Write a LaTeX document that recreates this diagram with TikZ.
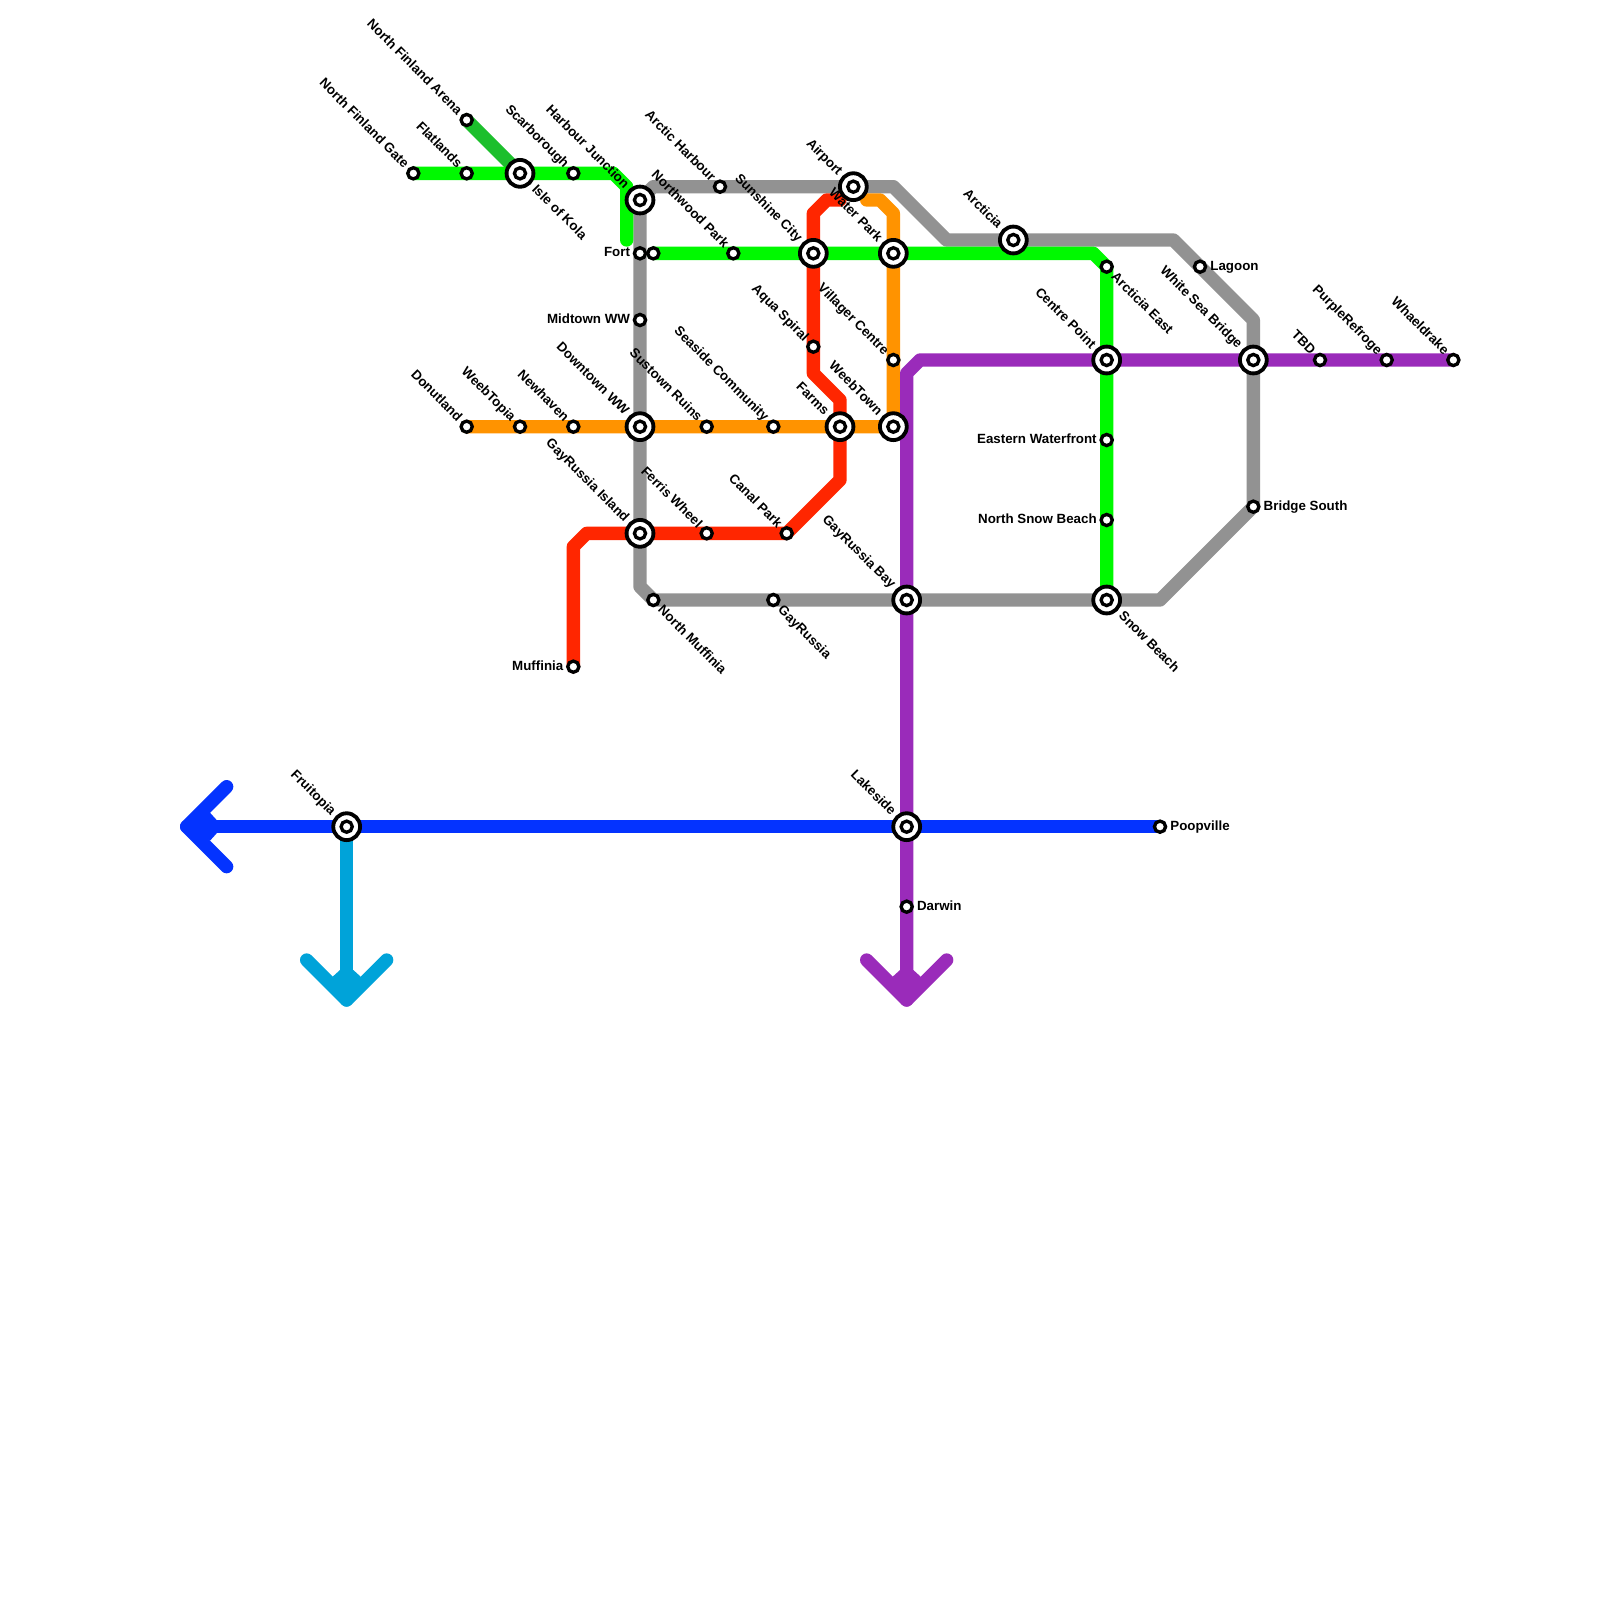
\documentclass[tikz,border=0pt]{standalone}
\usepackage{fontspec}
\setmainfont{Liberation Sans}
\usetikzlibrary{calc}
\pgfdeclarelayer{bg}
\pgfsetlayers{bg,main}
\definecolor{cGrey}{HTML}{929292}
\definecolor{cGreen}{HTML}{00F900}
\definecolor{cDkGreen}{HTML}{1CBF2C}
\definecolor{cOrange}{HTML}{FF9300}
\definecolor{cRed}{HTML}{FF2600}
\definecolor{cPurple}{HTML}{9A2BBA}
\definecolor{cBlue}{HTML}{0433FF}
\definecolor{cCyan}{HTML}{00A3D9}
\tikzset{
  metro/.style={line width=0.4cm,line cap=round,line join=round},
  smallstn/.style={circle,draw=black,fill=white,line width=0.10cm,inner sep=0pt,outer sep=0pt,minimum size=0.335cm},
  bigstn/.style={circle,draw=black,fill=white,line width=0.115cm,inner sep=0pt,outer sep=0pt,minimum size=0.805cm},
  lab/.style={inner sep=0pt,outer sep=0pt,text=black,font=\fontsize{11.38pt}{12pt}\selectfont\bfseries},
}
\newcommand{\stnS}[3]{\node[smallstn] (#1) at (#2,#3) {};}
\newcommand{\stnB}[3]{\node[bigstn] (#1) at (#2,#3) {};\node[smallstn] (#1-i) at (#1.center) {};}
\newcommand{\lblUL}[2]{\node[lab,rotate=-45,anchor=base east] (#1-l) at ($(#1.center)+(-0.73,-0.35)$) {#2};}
\newcommand{\lblULB}[2]{\node[lab,rotate=-45,anchor=base east] (#1-l) at ($(#1.center)+(-1.21,-0.81)$) {#2};}
\newcommand{\lblLR}[2]{\node[lab,rotate=-45,anchor=base west] (#1-l) at ($(#1.center)+(0.3,0.82)$) {#2};}
\newcommand{\lblLRB}[2]{\node[lab,rotate=-45,anchor=base west] (#1-l) at ($(#1.center)+(0.85,1.26)$) {#2};}
\newcommand{\lblL}[2]{\node[lab,anchor=base east] (#1-l) at ($(#1.center)+(-0.75,0.25)$) {#2};}
\newcommand{\lblR}[2]{\node[lab,anchor=base west] (#1-l) at ($(#1.center)+(0.78,0.25)$) {#2};}
\begin{document}
\begin{tikzpicture}[x=0.4cm,y=-0.4cm]
\useasboundingbox (0,0) rectangle (120,120);
% stations
\stnS{nfg}{31}{13}
\stnS{flat}{35}{13}
\stnS{nfa}{35}{9}
\stnB{kola}{39}{13}
\stnS{scar}{43}{13}
\stnB{hj}{48}{15}
\stnS{ah}{54}{14}
\stnB{air}{64}{14}
\stnB{arc}{76}{18}
\stnS{lag}{90}{20}
\stnS{fort}{48}{19}
\stnS{fort2}{49}{19}
\stnS{np}{55}{19}
\stnB{sc}{61}{19}
\stnB{wp}{67}{19}
\stnS{ae}{83}{20}
\stnS{mid}{48}{24}
\stnS{aqua}{61}{26}
\stnS{vil}{67}{27}
\stnB{cp}{83}{27}
\stnB{wsb}{94}{27}
\stnS{tbd}{99}{27}
\stnS{pr}{104}{27}
\stnS{wh}{109}{27}
\stnS{don}{35}{32}
\stnS{wt}{39}{32}
\stnS{new}{43}{32}
\stnB{dww}{48}{32}
\stnS{sus}{53}{32}
\stnS{sea}{58}{32}
\stnB{farms}{63}{32}
\stnB{wb}{67}{32}
\stnS{ew}{83}{33}
\stnS{nsb}{83}{39}
\stnS{bs}{94}{38}
\stnB{gri}{48}{40}
\stnS{fw}{53}{40}
\stnS{can}{59}{40}
\stnS{nm}{49}{45}
\stnS{gr}{58}{45}
\stnB{grb}{68}{45}
\stnB{sb}{83}{45}
\stnS{muf}{43}{50}
\stnB{fru}{26}{62}
\stnB{lake}{68}{62}
\stnS{poop}{87}{62}
\stnS{dar}{68}{68}
% free bends
\coordinate (g1) at (49,14);
\coordinate (g2) at (67,14);
\coordinate (g3) at (71,18);
\coordinate (g4) at (88,18);
\coordinate (g5) at (94,24);
\coordinate (g6) at (87,45);
\coordinate (g7) at (48,44);
\coordinate (a1) at (46,13);
\coordinate (a2) at (47,14);
\coordinate (a3) at (47,18);
\coordinate (b1) at (82,19);
\coordinate (o1) at (65,15);
\coordinate (o2) at (66,15);
\coordinate (o3) at (67,16);
\coordinate (r1) at (43,41);
\coordinate (r2) at (44,40);
\coordinate (r3) at (63,36);
\coordinate (r4) at (63,30);
\coordinate (r5) at (61,28);
\coordinate (r6) at (61,16);
\coordinate (r7) at (62,15);
\coordinate (r8) at (63,15);
\coordinate (p1) at (68,28);
\coordinate (p2) at (69,27);
\coordinate (ptip) at (68,75);
\coordinate (parmL) at (65,72);
\coordinate (parmR) at (71,72);
\coordinate (btip) at (14,62);
\coordinate (barmU) at (17,59);
\coordinate (barmD) at (17,65);
\coordinate (ctip) at (26,75);
\coordinate (carmL) at (23,72);
\coordinate (carmR) at (29,72);
% lines
\begin{pgfonlayer}{bg}
\fill[white] (0,0) rectangle (120,120);
\draw[metro,cGrey] (hj.center) -- (g1) -- (ah.center) -- (air.center) -- (g2) -- (g3) -- (arc.center) -- (g4) -- (lag.center) -- (g5) -- (wsb.center) -- (bs.center) -- (g6) -- (sb.center) -- (grb.center) -- (gr.center) -- (nm.center) -- (g7) -- (gri.center) -- (dww.center) -- (mid.center) -- (fort.center) -- (hj.center);
\draw[metro,cDkGreen] (nfa.center) -- (kola.center);
\draw[metro,cGreen] (nfg.center) -- (flat.center) -- (kola.center) -- (scar.center) -- (a1) -- (a2) -- (a3);
\draw[metro,cGreen] (fort2.center) -- (np.center) -- (sc.center) -- (wp.center) -- (b1) -- (ae.center) -- (cp.center) -- (ew.center) -- (nsb.center) -- (sb.center);
\draw[metro,cOrange] (o1) -- (o2) -- (o3) -- (wp.center) -- (vil.center) -- (wb.center) -- (farms.center) -- (sea.center) -- (sus.center) -- (dww.center) -- (new.center) -- (wt.center) -- (don.center);
\draw[metro,cRed] (r8) -- (r7) -- (r6) -- (sc.center) -- (aqua.center) -- (r5) -- (r4) -- (farms.center) -- (r3) -- (can.center) -- (fw.center) -- (gri.center) -- (r2) -- (r1) -- (muf.center);
\draw[metro,cPurple] (wh.center) -- (pr.center) -- (tbd.center) -- (wsb.center) -- (cp.center) -- (p2) -- (p1) -- (grb.center) -- (lake.center) -- (dar.center) -- (ptip);
\draw[metro,cPurple] (parmL) -- (ptip) -- (parmR);
\fill[cPurple] (ptip) -- (66.95,73.25) -- (67.5,72.75) -- (68.5,72.75) -- (69.05,73.25) -- cycle;
\draw[metro,cCyan] (fru.center) -- (ctip);
\draw[metro,cCyan] (carmL) -- (ctip) -- (carmR);
\fill[cCyan] (ctip) -- (24.95,73.25) -- (25.5,72.75) -- (26.5,72.75) -- (27.05,73.25) -- cycle;
\draw[metro,cBlue] (poop.center) -- (lake.center) -- (fru.center) -- (btip);
\draw[metro,cBlue] (barmU) -- (btip) -- (barmD);
\fill[cBlue] (btip) -- (15.75,60.95) -- (16.25,61.5) -- (16.25,62.5) -- (15.75,63.05) -- cycle;
\end{pgfonlayer}
% labels
\lblUL{nfg}{North Finland Gate}
\lblUL{flat}{Flatlands}
\lblUL{nfa}{North Finland Arena}
\lblUL{scar}{Scarborough}
\lblUL{ah}{Arctic Harbour}
\lblUL{np}{Northwood Park}
\lblUL{don}{Donutland}
\lblUL{wt}{WeebTopia}
\lblUL{new}{Newhaven}
\lblUL{sus}{Sustown Ruins}
\lblUL{sea}{Seaside Community}
\lblUL{aqua}{Aqua Spiral}
\lblUL{vil}{Villager Centre}
\lblUL{fw}{Ferris Wheel}
\lblUL{can}{Canal Park}
\lblUL{tbd}{TBD}
\lblUL{pr}{PurpleRefroge}
\lblUL{wh}{Whaeldrake}
\lblULB{hj}{Harbour Junction}
\lblULB{sc}{Sunshine City}
\lblULB{air}{Airport}
\lblULB{wp}{Water Park}
\lblULB{arc}{Arcticia}
\lblULB{dww}{Downtown WW}
\lblULB{farms}{Farms}
\lblULB{wb}{WeebTown}
\lblULB{gri}{GayRussia Island}
\lblULB{grb}{GayRussia Bay}
\lblULB{cp}{Centre Point}
\lblULB{wsb}{White Sea Bridge}
\lblULB{lake}{Lakeside}
\lblULB{fru}{Fruitopia}
\lblLR{ae}{Arcticia East}
\lblLR{nm}{North Muffinia}
\lblLR{gr}{GayRussia}
\lblLRB{kola}{Isle of Kola}
\lblLRB{sb}{Snow Beach}
\lblL{fort}{Fort}
\lblL{mid}{Midtown WW}
\lblL{ew}{Eastern Waterfront}
\lblL{nsb}{North Snow Beach}
\lblL{muf}{Muffinia}
\lblR{lag}{Lagoon}
\lblR{bs}{Bridge South}
\lblR{poop}{Poopville}
\lblR{dar}{Darwin}
\end{tikzpicture}
\end{document}
